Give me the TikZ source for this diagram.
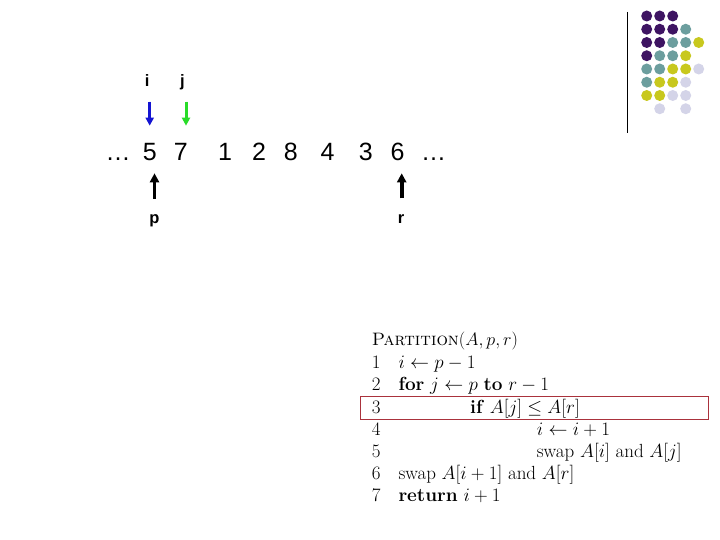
\RequirePackage{fix-cm}
\documentclass[tikz,border=0pt]{standalone}
\usepackage{fontspec}
\newfontfamily\arial{Liberation Sans}
\usetikzlibrary{arrows.meta}
\definecolor{dpurple}{RGB}{62,20,98}
\definecolor{dteal}{RGB}{108,158,158}
\definecolor{dyellow}{RGB}{200,200,30}
\definecolor{dlav}{RGB}{212,212,232}
\definecolor{ptrblue}{RGB}{20,20,210}
\definecolor{ptrgreen}{RGB}{40,220,40}
\definecolor{boxred}{RGB}{170,50,60}
\begin{document}
\begin{tikzpicture}[x=1pt,y=-1pt,
  digit/.style={font=\arial\fontsize{25}{28}\selectfont, anchor=base, inner sep=0pt},
  lbl/.style={font=\arial\bfseries\fontsize{16.5}{18}\selectfont, anchor=base, inner sep=0pt},
  ptr/.style={line width=3.8pt, -{Triangle[length=9pt,width=9pt]}},
  ptrc/.style={line width=3pt, -{Triangle[length=8pt,width=8pt]}},
  dotc/.style={circle, inner sep=0pt, minimum size=11pt},
  codeln/.style={anchor=base west, inner sep=0pt, font=\fontsize{19}{22}\selectfont},
  hdr/.style={anchor=base west, inner sep=0pt, font=\fontsize{18}{22}\selectfont},
  hlbox/.style={draw=boxred, line width=1pt, inner sep=0pt, minimum width=348pt, minimum height=23.3pt}]
\useasboundingbox[fill=white] (0,0) rectangle (720,540);

% logo
\draw[line width=1.3pt] (627.3,12) coordinate (la) -- (627.3,133) coordinate (lb);
\foreach \c/\r/\col in {0/0/dpurple,1/0/dpurple,2/0/dpurple,
  0/1/dpurple,1/1/dpurple,2/1/dpurple,3/1/dteal,
  0/2/dpurple,1/2/dpurple,2/2/dteal,3/2/dteal,4/2/dyellow,
  0/3/dpurple,1/3/dteal,2/3/dteal,3/3/dyellow,
  0/4/dteal,1/4/dteal,2/4/dyellow,3/4/dyellow,4/4/dlav,
  0/5/dteal,1/5/dyellow,2/5/dyellow,3/5/dlav,
  0/6/dyellow,1/6/dyellow,2/6/dlav,3/6/dlav,
  1/7/dlav,3/7/dlav}
  \node[dotc, fill=\col] (d\c\r) at (646.7+13*\c, 16+13.25*\r) {};

% array
\node[digit] (ell1) at (118,160.7) {\dots};
\node[digit] (n5) at (149.7,160.7) {5};
\node[digit] (n7) at (180.8,160.7) {7};
\node[digit] (n1) at (225,160.7) {1};
\node[digit] (n2) at (259,160.7) {2};
\node[digit] (n8) at (290.8,160.7) {8};
\node[digit] (n4) at (327.5,160.7) {4};
\node[digit] (n3) at (365.8,160.7) {3};
\node[digit] (n6) at (397.5,160.7) {6};
\node[digit] (ell2) at (433.5,160.7) {\dots};

% pointer labels
\node[lbl] (li) at (147.2,86.7) {i};
\node[lbl] (lj) at (182.5,86.7) {j};
\node[lbl] (lp) at (154.5,223.5) {p};
\node[lbl] (lr) at (401.2,224) {r};

\coordinate (ai1) at (149.7,101.7); \coordinate (ai2) at (149.7,125.7);
\coordinate (aj1) at (186,101.7);   \coordinate (aj2) at (186,125.7);
\coordinate (ap1) at (154.5,199);   \coordinate (ap2) at (154.5,173.3);
\coordinate (ar1) at (401.7,198.5); \coordinate (ar2) at (401.7,173.3);
\draw[ptrc, draw=ptrblue, fill=ptrblue] (ai1) -- (ai2);
\draw[ptrc, draw=ptrgreen, fill=ptrgreen] (aj1) -- (aj2);
\draw[ptr] (ap1) -- (ap2);
\draw[ptr] (ar1) -- (ar2);

% pseudocode
\node[hlbox] (hl) at (534.2,408.3) {};
\node[hdr] (h0) at (371.7,345) {\textsc{Partition}$(A,p,r)$};
\node[codeln] (k1) at (371.7,368.3) {1};
\node[codeln] (c1) at (398.3,368.3) {$i \gets p-1$};
\node[codeln] (k2) at (371.7,390.5) {2};
\node[codeln] (c2) at (398.3,390.5) {\textbf{for} $j \gets p$ \textbf{to} $r-1$};
\node[codeln] (k3) at (371.7,413.5) {3};
\node[codeln] (c3) at (470,413.5) {\textbf{if} $A[j] \le A[r]$};
\node[codeln] (k4) at (371.7,435.5) {4};
\node[codeln] (c4) at (536.7,435.5) {$i \gets i+1$};
\node[codeln] (k5) at (371.7,457) {5};
\node[codeln] (c5) at (536.7,457) {swap $A[i]$ and $A[j]$};
\node[codeln] (k6) at (371.7,479) {6};
\node[codeln] (c6) at (398.3,479) {swap $A[i+1]$ and $A[r]$};
\node[codeln] (k7) at (371.7,501) {7};
\node[codeln] (c7) at (398.3,501) {\textbf{return} $i+1$};
\end{tikzpicture}
\end{document}
